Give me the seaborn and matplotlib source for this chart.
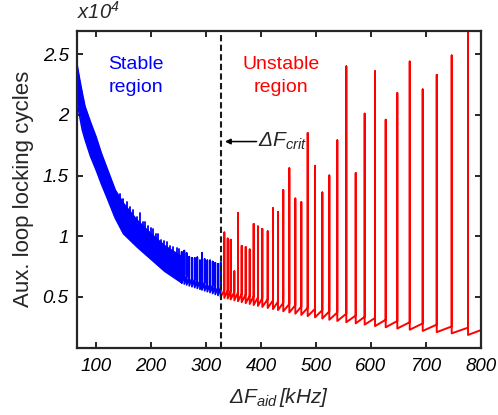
import numpy as np
import pandas as pd
import matplotlib
matplotlib.use("Agg")
import matplotlib.pyplot as plt
import seaborn as sns

# ---- data (cycles in units of 1e4) ----
# dense stable part: envelope of the fast sawtooth
blue_env_khz = [65, 70, 75, 80, 90, 100, 110, 120, 135, 150, 175, 200, 225, 256]
blue_env_upper = [2.43, 2.30, 2.18, 2.07, 1.94, 1.82, 1.68, 1.56, 1.38, 1.27, 1.13, 1.02, 0.92, 0.83]
blue_env_lower = [2.12, 2.00, 1.88, 1.80, 1.66, 1.55, 1.43, 1.32, 1.15, 1.02, 0.91, 0.81, 0.71, 0.615]

# taller bursts sticking out of the dense band
blue_burst_khz = [143.6, 149.7, 155.8, 161.0, 167.9, 174.0, 180.0, 185.0, 189.1, 195.0,
                  200.0, 204.2, 209.0, 213.3, 218.0, 223.0, 228.5, 234.0, 240.0, 246.7, 251.0]
blue_burst_peak = [1.35, 1.31, 1.28, 1.24, 1.215, 1.16, 1.19, 1.12, 1.12, 1.08,
                   1.07, 1.06, 1.02, 1.02, 0.97, 0.96, 0.95, 0.92, 0.91, 0.90, 0.89]

# resolved stable teeth near the critical frequency
blue_spike_khz = [255.8, 260.6, 264.9, 269.6, 274.5, 279.5, 284.2, 289.1, 292.7, 297.6,
                  302.4, 307.3, 312.2, 316.9, 321.8, 326.7]
blue_peak = [0.87, 0.88, 0.86, 0.83, 0.82, 0.82, 0.825, 0.80, 0.86, 0.81,
             0.80, 0.80, 0.79, 0.78, 0.77, 0.78]
blue_before = [0.69, 0.68, 0.67, 0.66, 0.655, 0.645, 0.64, 0.635, 0.625, 0.62,
               0.61, 0.605, 0.595, 0.59, 0.58, 0.575]
blue_after = [0.615, 0.605, 0.598, 0.59, 0.583, 0.576, 0.569, 0.562, 0.556, 0.549,
              0.542, 0.535, 0.527, 0.519, 0.511, 0.495]

# unstable part: one spike per locking burst
red_spike_khz = [333.3, 339.5, 344.9, 351.5, 358.2, 364.9, 372.2, 379.5, 386.7, 394.5,
                 402.4, 412.2, 421.8, 430.9, 440.5, 451.5, 462.4, 473.3, 484.9, 498.2,
                 511.5, 524.2, 538.7, 555.1, 572.2, 588.5, 607.3, 626.7, 647.8, 670.4,
                 694.0, 719.5, 746.7, 776.4]
red_peak = [1.03, 0.98, 0.97, 0.71, 1.19, 0.92, 0.91, 0.89, 1.10, 1.08,
            1.06, 1.04, 1.23, 1.20, 1.38, 1.56, 1.31, 1.28, 1.85, 1.58,
            1.36, 1.50, 1.79, 2.40, 1.52, 2.01, 2.36, 1.96, 2.18, 2.44,
            2.21, 2.33, 2.49, 2.75]
red_before = [0.555, 0.555, 0.55, 0.54, 0.535, 0.525, 0.52, 0.51, 0.505, 0.495,
              0.49, 0.48, 0.47, 0.46, 0.45, 0.44, 0.43, 0.42, 0.41, 0.40,
              0.39, 0.38, 0.37, 0.36, 0.345, 0.335, 0.325, 0.31, 0.30, 0.29,
              0.28, 0.27, 0.255, 0.245]
red_after = [0.49, 0.485, 0.478, 0.47, 0.463, 0.455, 0.447, 0.44, 0.432, 0.424,
             0.416, 0.407, 0.398, 0.39, 0.38, 0.37, 0.36, 0.35, 0.34, 0.33,
             0.32, 0.31, 0.30, 0.29, 0.28, 0.27, 0.258, 0.248, 0.238, 0.228,
             0.218, 0.208, 0.198, 0.185]
red_start = (327.0, 0.50)
red_end = (800.0, 0.225)

f_crit_khz = 327.0
x_ticks = [100, 200, 300, 400, 500, 600, 700, 800]
y_ticks = [0.5, 1, 1.5, 2, 2.5]
y_tick_labels = ["0.5", "1", "1.5", "2", "2.5"]


def sawtooth(spikes, peaks, before, after, start=None, end=None):
    xs, ys = [], []
    if start is not None:
        xs.append(start[0]); ys.append(start[1])
    for s, p, b, a in zip(spikes, peaks, before, after):
        xs += [s, s, s]
        ys += [b, p, a]
    if end is not None:
        xs.append(end[0]); ys.append(end[1])
    return pd.DataFrame({"f": xs, "n": ys})


sns.set_theme(style="white")
plt.rcParams["font.family"] = ["Liberation Sans", "DejaVu Sans"]
plt.rcParams["mathtext.fontset"] = "custom"
plt.rcParams["mathtext.it"] = "Liberation Sans:italic"
plt.rcParams["mathtext.rm"] = "Liberation Sans:italic"
plt.rcParams["mathtext.default"] = "it"

fig = plt.figure(figsize=(4.98, 4.15), dpi=100)
ax = fig.add_axes([0.1546, 0.1614, 0.8113, 0.7651])

BLUE = "#0000ff"
RED = "#ff0000"

# stable region: dense band
ax.fill_between(blue_env_khz, blue_env_lower, blue_env_upper, color=BLUE, lw=0)
env = pd.DataFrame({"f": blue_env_khz + blue_env_khz,
                    "n": blue_env_upper + blue_env_lower,
                    "edge": ["up"] * len(blue_env_khz) + ["lo"] * len(blue_env_khz)})
sns.lineplot(data=env, x="f", y="n", units="edge", estimator=None, sort=False,
             color=BLUE, lw=1.2, ax=ax)
# bursts rising out of the band
band_top = np.interp(blue_burst_khz, blue_env_khz, blue_env_upper)
bursts = pd.DataFrame({"f": np.repeat(blue_burst_khz, 2),
                       "n": np.column_stack([band_top - 0.02, blue_burst_peak]).ravel(),
                       "id": np.repeat(np.arange(len(blue_burst_khz)), 2)})
sns.lineplot(data=bursts, x="f", y="n", units="id", estimator=None, sort=False,
             color=BLUE, lw=1.3, ax=ax)
# resolved teeth
blue_df = sawtooth(blue_spike_khz, blue_peak, blue_before, blue_after,
                   start=(blue_env_khz[-1], blue_env_lower[-1]))
sns.lineplot(data=blue_df, x="f", y="n", estimator=None, sort=False,
             color=BLUE, lw=1.3, ax=ax)

# unstable region
red_df = sawtooth(red_spike_khz, red_peak, red_before, red_after,
                  start=red_start, end=red_end)
sns.lineplot(data=red_df, x="f", y="n", estimator=None, sort=False,
             color=RED, lw=1.4, ax=ax)

# critical frequency
ax.axvline(f_crit_khz, color="#1a1a1a", lw=1.5, ls=(0, (3, 1.6)))
ax.annotate("", xy=(334.5, 1.78), xytext=(392, 1.78),
            arrowprops=dict(arrowstyle="-|>", color="black", lw=1.1,
                            mutation_scale=8, shrinkA=0, shrinkB=0))
ax.text(395, 1.78, r"$ΔF_{crit}$", fontsize=15, ha="left", va="center")

ax.text(172, 2.32, "Stable\nregion", color=BLUE, fontsize=14, ha="center",
        va="center", linespacing=1.4)
ax.text(436, 2.32, "Unstable\nregion", color=RED, fontsize=14, ha="center",
        va="center", linespacing=1.4)

ax.set_xlim(65.5, 800)
ax.set_ylim(0.077, 2.696)
ax.set_xticks(x_ticks)
ax.set_yticks(y_ticks)
ax.set_yticklabels(y_tick_labels)
for lbl in ax.get_xticklabels() + ax.get_yticklabels():
    lbl.set_fontstyle("italic")
ax.tick_params(direction="in", length=4, width=1.4, labelsize=13.5,
               top=True, right=True, bottom=True, left=True,
               color="#262626", labelcolor="black")
ax.tick_params(axis="x", pad=7)
ax.tick_params(axis="y", pad=6)
for sp in ax.spines.values():
    sp.set_linewidth(1.6)
    sp.set_color("#262626")

ax.set_xlabel(r"$ΔF_{aid}\,[kHz]$", fontsize=15, labelpad=8)
ax.set_ylabel("Aux. loop locking cycles", fontsize=16, labelpad=6)
fig.text(0.1546, 0.945, r"$x10^{4}$", fontsize=14.5, ha="left", va="bottom")

fig.savefig("out.png", dpi=100)
